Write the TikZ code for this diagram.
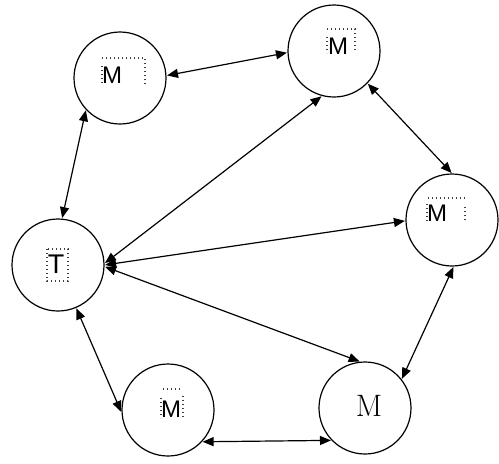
\documentclass[tikz,border=0pt]{standalone}
\usepackage{fontspec}
\newfontfamily\arialfont{Liberation Sans}
\usetikzlibrary{arrows.meta}

\begin{document}
\begin{tikzpicture}[x=1pt,y=-1pt,
    station/.style={circle,draw,line width=1.2pt,minimum size=92pt,inner sep=0pt},
    link/.style={{Triangle[length=11pt,width=9pt]}-{Triangle[length=11pt,width=9pt]},line width=1.2pt,shorten <=0.5pt,shorten >=0.5pt},
    selbox/.style={draw=black!75,dash pattern=on 1.4pt off 2.6pt,line width=1.3pt},
    sanslabel/.style={font=\arialfont\fontsize{24}{24}\selectfont,inner sep=0pt}]
  \useasboundingbox (0,0) rectangle (499,464);

  % stations
  \node[station] (t) at (58,265) {};
  \node[station] (m1) at (120,78) {};
  \node[station] (m2) at (334,51) {};
  \node[station] (m3) at (452,220) {};
  \node[station] (m4) at (365,408) {};
  \node[station] (m5) at (168,410) {};

  % labels
  \node[sanslabel,font=\arialfont\fontsize{27}{27}\selectfont] (tl) at (56,264) {T};
  \draw[selbox] (47,249) rectangle (68,281);
  \node[sanslabel] (m1l) at (112,75) {M};
  \draw[selbox] (102,58) -- (145,58) -- (145,84);
  \draw[selbox] (102,66) -- (102,84);
  \node[sanslabel] (m2l) at (338,46) {M};
  \draw[selbox] (327,29) -- (355,29) -- (355,52);
  \draw[selbox] (327,37) -- (327,53);
  \node[sanslabel] (m3l) at (437,213) {M};
  \draw[selbox] (428,198) -- (465,198);
  \draw[selbox] (465,207) -- (465,220);
  \draw[selbox] (427,204) -- (427,222);
  \node[font=\fontsize{31}{31}\selectfont,inner sep=0pt] (m4l) at (369,406) {M};
  \node[sanslabel] (m5l) at (171,409) {M};
  \draw[selbox] (163,389) -- (180,389);
  \draw[selbox] (183,396) -- (183,418);
  \draw[selbox] (161,398) -- (161,418);

  % links
  \draw[link] (t.85) -- (m1.223);
  \draw[link] (m1.3) -- (m2.182);
  \draw[link] (m2.316) -- (m3.90);
  \draw[link] (m3.272) -- (m4.38);
  \draw[link] (m5.317) -- (m4.224);
  \draw[link] (t.293) -- (m5.183);
  \draw[link] (t.2) -- (m2.255);
  \draw[link] (t.0) -- (m3.181);
  \draw[link] (t.358) -- (m4.96);
\end{tikzpicture}
\end{document}
